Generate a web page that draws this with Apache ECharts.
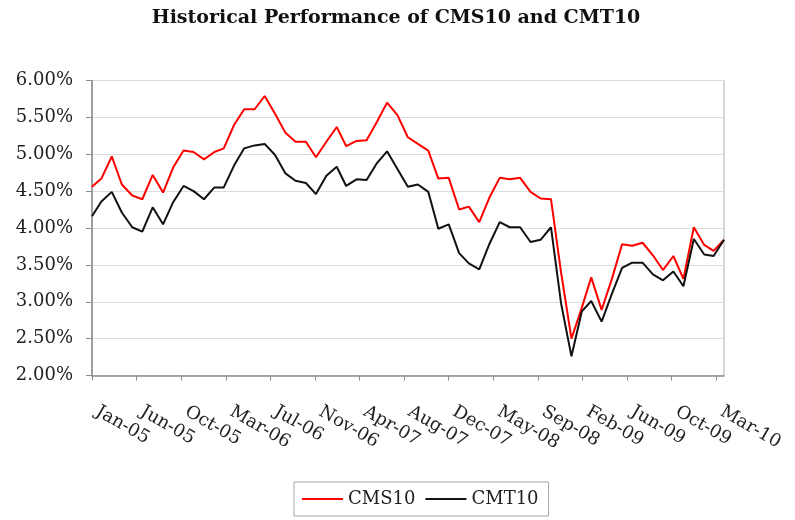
<!DOCTYPE html>
<html>
<head>
<meta charset="utf-8">
<script src="https://cdn.jsdelivr.net/npm/echarts@6/dist/echarts.min.js"></script>
<style>
html,body{margin:0;padding:0;background:#fff;}
#chart{width:795px;height:520px;}
</style>
</head>
<body>
<div id="chart"></div>
<script>
// Monthly observations (month-end)
const months = [
 'Jan-05','Feb-05','Mar-05','Apr-05','May-05','Jun-05','Jul-05','Aug-05','Sep-05','Oct-05','Nov-05','Dec-05',
 'Jan-06','Feb-06','Mar-06','Apr-06','May-06','Jun-06','Jul-06','Aug-06','Sep-06','Oct-06','Nov-06','Dec-06',
 'Jan-07','Feb-07','Mar-07','Apr-07','May-07','Jun-07','Jul-07','Aug-07','Sep-07','Oct-07','Nov-07','Dec-07',
 'Jan-08','Feb-08','Mar-08','Apr-08','May-08','Jun-08','Jul-08','Aug-08','Sep-08','Oct-08','Nov-08','Dec-08',
 'Jan-09','Feb-09','Mar-09','Apr-09','May-09','Jun-09','Jul-09','Aug-09','Sep-09','Oct-09','Nov-09','Dec-09',
 'Jan-10','Feb-10','Mar-10'
];
const cms10 = [
 4.56,4.67,4.97,4.59,4.44,4.39,4.72,4.48,4.82,5.05,5.03,4.93,
 5.03,5.08,5.40,5.61,5.61,5.79,5.55,5.29,5.17,5.17,4.96,5.17,
 5.37,5.11,5.18,5.19,5.44,5.70,5.53,5.23,5.14,5.05,4.67,4.68,
 4.25,4.29,4.08,4.41,4.68,4.66,4.68,4.49,4.40,4.39,3.40,2.50,
 2.92,3.33,2.89,3.30,3.78,3.76,3.80,3.63,3.43,3.62,3.31,4.01,
 3.77,3.69,3.84
];
const cmt10 = [
 4.16,4.36,4.49,4.21,4.01,3.95,4.28,4.05,4.35,4.57,4.50,4.39,
 4.55,4.55,4.85,5.08,5.12,5.14,4.99,4.74,4.64,4.61,4.46,4.71,
 4.83,4.57,4.66,4.65,4.88,5.04,4.80,4.56,4.59,4.49,3.99,4.05,
 3.66,3.52,3.44,3.78,4.08,4.01,4.01,3.81,3.84,4.01,2.98,2.26,
 2.87,3.01,2.73,3.10,3.46,3.53,3.53,3.37,3.29,3.41,3.21,3.85,
 3.64,3.62,3.84
];
const tickLabels = ['Jan-05','Jun-05','Oct-05','Mar-06','Jul-06','Nov-06','Apr-07','Aug-07','Dec-07','May-08','Sep-08','Feb-09','Jun-09','Oct-09','Mar-10'];
const yTicks = ['2.00%','2.50%','3.00%','3.50%','4.00%','4.50%','5.00%','5.50%','6.00%'];

const MON = ['Jan','Feb','Mar','Apr','May','Jun','Jul','Aug','Sep','Oct','Nov','Dec'];
function monthEnd(lbl){
  const m = MON.indexOf(lbl.slice(0,3));
  const y = 2000 + parseInt(lbl.slice(4),10);
  return Date.UTC(y, m + 1, 0);
}
const t0 = monthEnd(months[0]);
const dayOf = months.map(l => Math.round((monthEnd(l) - t0) / 86400000));
const lastDay = dayOf[dayOf.length - 1];
const STEP = 133; // label spacing in days (date axis major unit)

const serif = 'DejaVu Serif';
const chart = echarts.init(document.getElementById('chart'), null, {renderer: 'canvas'});
chart.setOption({
  animation: false,
  backgroundColor: '#ffffff',
  title: {
    text: 'Historical Performance of CMS10 and CMT10',
    left: 391, top: 4, textAlign: 'center',
    textStyle: {fontFamily: serif, fontWeight: 'bold', fontSize: 19, color: '#111'}
  },
  legend: {
    left: 294, top: 482,
    padding: [8, 10, 8, 8],
    borderColor: '#a6a6a6', borderWidth: 1,
    itemWidth: 41, itemHeight: 2, itemGap: 10,
    icon: 'rect',
    textStyle: {fontFamily: serif, fontSize: 18, color: '#222'},
    data: ['CMS10', 'CMT10']
  },
  grid: {
    left: 92, right: 71, top: 80.5, bottom: 144.5,
    show: true, borderColor: '#b0b0b0', borderWidth: 1,
    outerBoundsMode: 'none'
  },
  xAxis: {
    type: 'value', min: 0, max: lastDay, interval: STEP,
    axisLine: {show: true, lineStyle: {color: '#8c8c8c', width: 1.5}},
    axisTick: {show: true, length: 5, lineStyle: {color: '#8c8c8c'}},
    splitLine: {show: false},
    axisLabel: {
      rotate: -30, margin: 32, showMaxLabel: false,
      padding: [0, 0, 0, 6],
      fontFamily: serif, fontSize: 18, color: '#222',
      formatter: function (v) {
        const k = v / STEP;
        if (Math.abs(k - Math.round(k)) > 1e-6) return '';
        return tickLabels[Math.round(k)] || '';
      }
    }
  },
  yAxis: {
    type: 'value', min: 2, max: 6, interval: 0.5,
    axisLine: {show: true, lineStyle: {color: '#8c8c8c', width: 1.5}},
    axisTick: {show: true, length: 6, lineStyle: {color: '#8c8c8c'}},
    splitLine: {show: true, lineStyle: {color: '#dcdcdc', width: 1}},
    axisLabel: {
      margin: 19, fontFamily: serif, fontSize: 18, color: '#222',
      formatter: function (v) { return yTicks[Math.round((v - 2) / 0.5)]; }
    }
  },
  series: [
    {
      name: 'CMS10', type: 'line', showSymbol: false, symbol: 'none',
      lineStyle: {color: '#ff0000', width: 2},
      itemStyle: {color: '#ff0000'},
      data: cms10.map((v, i) => [dayOf[i], v])
    },
    {
      name: 'CMT10', type: 'line', showSymbol: false, symbol: 'none',
      lineStyle: {color: '#111111', width: 2},
      itemStyle: {color: '#111111'},
      data: cmt10.map((v, i) => [dayOf[i], v])
    }
  ]
});
</script>
</body>
</html>
